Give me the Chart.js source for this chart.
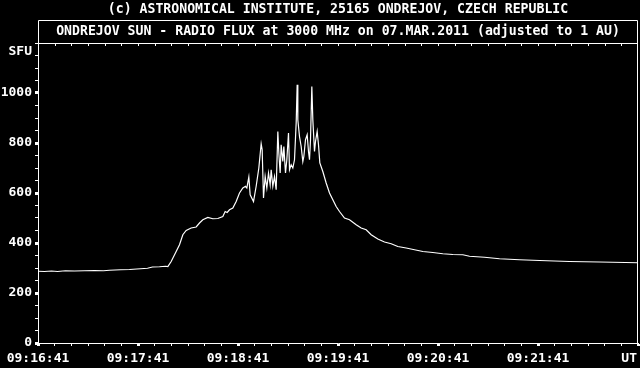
<!DOCTYPE html>
<html>
<head>
<meta charset="utf-8">
<script src="https://cdn.jsdelivr.net/npm/chart.js@4/dist/chart.umd.min.js"></script>
<style>
html,body{margin:0;padding:0;background:#000;}
#c{display:block;}
</style>
</head>
<body>
<canvas id="c" width="640" height="368"></canvas>
<script>
// ---- data ----
const headerText = '(c) ASTRONOMICAL INSTITUTE, 25165 ONDREJOV, CZECH REPUBLIC';
const titleText = 'ONDREJOV SUN - RADIO FLUX at 3000 MHz on 07.MAR.2011 (adjusted to 1 AU)';
const yUnit = 'SFU';
const xUnit = 'UT';
const xTickLabels = ['09:16:41','09:17:41','09:18:41','09:19:41','09:20:41','09:21:41'];
const yTickLabels = ['0','200','400','600','800','1000'];
// seconds after 09:16:41
const timeSec = [0,3.9,8.1,11.7,16.5,21.9,27.9,33.9,39.3,42.9,49.5,54.9,61.5,65.7,68.7,72.9,76.5,
 77.9,79.9,82.9,84.9,86.9,88.9,91.9,94.9,96.9,98.9,101.9,104.9,107.9,110.9,112.3,113.5,114.9,116.9,118.9,
 120.9,122.9,124.5,125.3,126.5,127.3,129.3,130.9,132.5,133.9,134.5,135.3,136.3,137.3,138.3,139.3,139.9,
 140.9,141.9,142.9,143.9,144.5,145.3,145.9,146.9,147.5,148.5,149.3,150.3,150.9,151.9,152.9,153.9,154.9,
 155.5,155.9,156.9,157.9,158.9,159.5,160.5,161.5,162.3,162.9,163.5,164.3,164.9,165.9,166.5,167.5,168.3,
 169.1,170.9,172.9,174.9,176.9,178.9,180.9,183.9,186.9,190.9,193.9,196.9,199.9,203.9,207.9,211.9,215.9,
 220.9,225.9,230.9,236.9,242.9,248.9,254.9,258.9,267.9,276.9,288.9,300.9,318.9,336.9,360];
const fluxSFU = [287,286,288,286,289,288,289,290,289,291,293,294,297,299,304,305,307,
 306,326,366,393,433,450,460,464,480,493,502,497,498,506,526,522,533,540,566,
 600,620,627,620,664,593,566,627,700,797,773,580,666,620,680,633,693,
 627,666,613,846,760,680,793,726,786,680,733,840,693,713,700,733,880,
 1033,893,826,786,726,746,813,833,766,733,813,1026,893,766,806,846,793,
 720,686,640,600,573,546,526,500,493,473,460,453,433,416,404,397,386,
 380,373,366,362,357,354,353,347,343,337,333,330,326,324,321];

const FONT = 'DejaVu Sans Mono';
const FG = '#ffffff';

const decor = {
  id: 'decor',
  afterDraw(chart) {
    const ctx = chart.ctx;
    const a = chart.chartArea;
    const xs = chart.scales.x, ys = chart.scales.y;
    ctx.save();
    ctx.fillStyle = FG;
    ctx.strokeStyle = FG;
    ctx.lineWidth = 1;
    ctx.font = 'bold 13.2px "' + FONT + '"';
    ctx.textAlign = 'center';
    ctx.textBaseline = 'middle';
    const cx = (a.left + a.right) / 2;
    ctx.fillText(headerText, cx, 10);
    ctx.fillText(titleText, cx, 32);
    // title box + plot box
    ctx.beginPath();
    ctx.moveTo(a.left + 0.5, 20.5);
    ctx.lineTo(a.right - 0.5, 20.5);
    ctx.lineTo(a.right - 0.5, a.bottom);
    ctx.moveTo(a.left + 0.5, 20.5);
    ctx.lineTo(a.left + 0.5, a.top);
    ctx.moveTo(a.left, a.top + 0.5);
    ctx.lineTo(a.right, a.top + 0.5);
    ctx.stroke();
    // top ticks (inside)
    for (let v = 10; v < 360; v += 10) {
      const px = Math.round(xs.getPixelForValue(v)) + 0.5;
      ctx.beginPath();
      ctx.moveTo(px, a.top);
      ctx.lineTo(px, a.top + 3);
      ctx.stroke();
    }
    // unit labels
    ctx.font = 'bold 13px "' + FONT + '"';
    ctx.textAlign = 'right';
    ctx.fillText(yUnit, 32, ys.getPixelForValue(1165));
    ctx.textBaseline = 'top';
    ctx.fillText(xUnit, 637, a.bottom + 9);
    ctx.restore();
  }
};

new Chart(document.getElementById('c'), {
  type: 'line',
  data: {
    datasets: [{
      data: timeSec.map((t, i) => ({x: t, y: fluxSFU[i]})),
      borderColor: FG,
      borderWidth: 1.2,
      pointRadius: 0,
      tension: 0,
      fill: false
    }]
  },
  options: {
    responsive: false,
    animation: false,
    devicePixelRatio: 1,
    layout: {padding: {top: 43, right: 2, left: 0, bottom: 0}},
    plugins: {legend: {display: false}, title: {display: false}, tooltip: {enabled: false}},
    scales: {
      x: {
        type: 'linear', min: 0, max: 360,
        border: {color: FG, width: 1},
        grid: {drawOnChartArea: false, drawTicks: true, tickLength: 3, color: FG,
               tickColor: FG, tickWidth: (c) => (c.tick && c.tick.value % 60 === 0 ? 3 : 1)},
        ticks: {
          stepSize: 10, autoSkip: false, maxRotation: 0, minRotation: 0, padding: 5,
          color: FG, font: {family: FONT, size: 13, weight: 'bold'},
          callback: (v) => (v % 60 === 0 && v / 60 < xTickLabels.length ? xTickLabels[v / 60] : '')
        },
        afterFit: (s) => { s.height = 25; s.paddingLeft = 0; s.paddingRight = 0; }
      },
      y: {
        min: 0, max: 1200,
        border: {color: FG, width: 1},
        grid: {drawOnChartArea: false, drawTicks: true, tickLength: 3, color: FG,
               tickColor: FG, tickWidth: (c) => (c.tick && c.tick.value % 200 === 0 && c.tick.value < 1200 ? 3 : 1)},
        ticks: {
          stepSize: 50, autoSkip: false, padding: 3,
          color: FG, font: {family: FONT, size: 13, weight: 'bold'},
          callback: (v) => (v % 200 === 0 && v / 200 < yTickLabels.length ? yTickLabels[v / 200] : '')
        },
        afterFit: (s) => { s.width = 38; s.paddingTop = 0; s.paddingBottom = 0; }
      }
    }
  },
  plugins: [decor]
});
</script>
</body>
</html>
